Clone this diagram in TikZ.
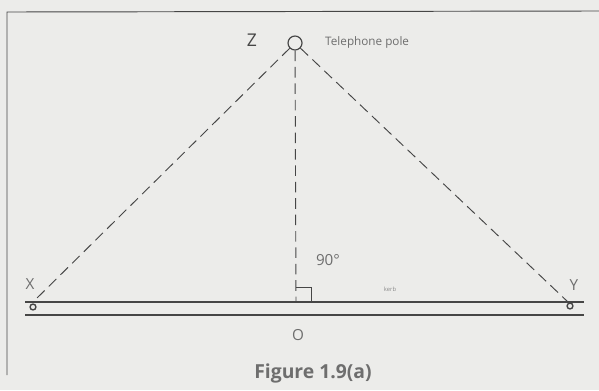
\documentclass[tikz,border=0pt]{standalone}
\usepackage{fontspec}
\setsansfont{Open Sans}
\usepackage{xcolor}
\usepackage{tikz}
\usetikzlibrary{arrows.meta, positioning, calc}
\definecolor{paper}{RGB}{236,236,234}
\definecolor{ink}{RGB}{70,70,70}
\definecolor{softink}{RGB}{110,110,110}
\tikzset{
  guy/.style={draw=ink, line width=0.8pt, dash pattern=on 9pt off 5pt},
  ground/.style={draw=ink, line width=1.2pt},
  pointlabel/.style={font=\sffamily\fontsize{13}{14}\selectfont, text=softink, inner sep=0pt},
  peg/.style={circle, draw=ink, line width=1.2pt, minimum size=5pt, inner sep=0pt},
  polemark/.style={circle, draw=ink, line width=1pt, minimum size=0.42cm, inner sep=0pt},
}

\begin{document}
\begin{tikzpicture}[x=0.03cm, y=-0.03cm]
  % Background and frame
  \fill[paper] (0,0) rectangle (599,390);
  \useasboundingbox (0,0) rectangle (599,390);
  \draw[ink, line width=0.8pt] (7,375) -- (7,12) -- (599,11);

  % Nodes
  \node[polemark] (pole) at (295,43) {};
  \node[pointlabel, font=\sffamily\fontsize{15}{16}\selectfont, text=ink] (z) at (252,40) {Z};
  \node[pointlabel, font=\sffamily\fontsize{10}{12}\selectfont, anchor=west] (poletext) at (325,42) {Telephone pole};
  \coordinate (X) at (33,302);
  \coordinate (Y) at (568,302);
  \coordinate (O) at (296,302);
  \node[pointlabel] (xlabel) at (30,284) {X};
  \node[pointlabel] (ylabel) at (574,285) {Y};
  \node[pointlabel] (olabel) at (298,335) {O};
  \node[pointlabel] (angle) at (328,260) {90°};
  \node[pointlabel, font=\sffamily\fontsize{5}{6}\selectfont, text=softink!80] (kerb) at (390,289) {kerb};
  \node[peg] (xpeg) at (33,307) {};
  \node[peg] (ypeg) at (570,306) {};

  % Ground
  \draw[ground] (25,302) -- (584,302);
  \draw[ground] (25,315) -- (584,315);

  % Guy wires and pole line
  \draw[guy] (pole) -- (X);
  \draw[guy] (pole) -- (Y);
  \draw[guy] (pole) -- (O);
  \draw[ink, line width=0.8pt] ($(O)+(0,-15)$) -| ($(O)+(15,0)$);

  % Caption
  \node[font=\sffamily\bfseries\fontsize{16.5}{18}\selectfont, text=softink] (caption) at (313,373) {Figure 1.9(a)};
\end{tikzpicture}
\end{document}
